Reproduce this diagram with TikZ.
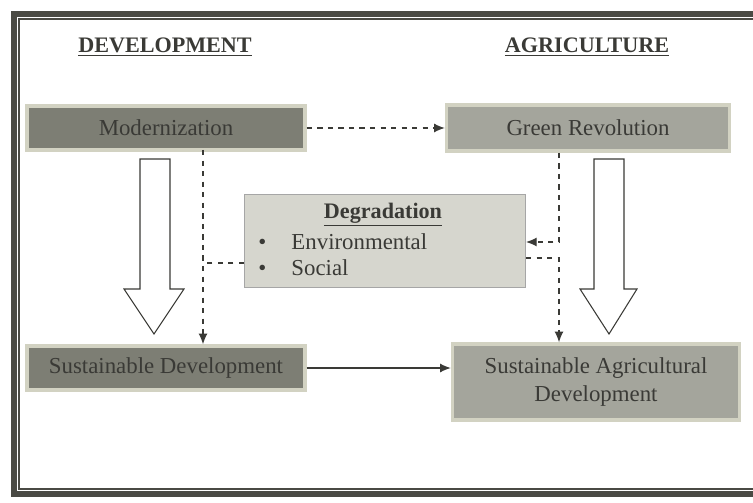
\documentclass[tikz,border=0pt]{standalone}
\usepackage{fontspec}
\setmainfont{Liberation Serif}
\usetikzlibrary{arrows.meta}
\definecolor{darkfill}{HTML}{7D7E74}
\definecolor{midfill}{HTML}{A4A59C}
\definecolor{degfill}{HTML}{D6D6CE}
\definecolor{boxedge}{HTML}{D2D2C2}
\definecolor{inktext}{HTML}{3A3A36}
\definecolor{frameink}{HTML}{4A4A44}
\tikzset{
  darkbox/.style={fill=darkfill, draw=boxedge, line width=2pt, inner sep=0pt, text=inktext},
  midbox/.style={fill=midfill, draw=boxedge, line width=2pt, inner sep=0pt, text=inktext, align=center},
  degbox/.style={fill=degfill, draw=gray!70, line width=0.6pt, inner sep=0pt},
  heading/.style={text=inktext, font=\fontsize{12.6}{15}\selectfont\bfseries},
  dashconn/.style={draw=inktext, dashed, line width=0.6pt, -{Latex[length=6pt,width=5pt]}},
  dashline/.style={draw=inktext, dashed, line width=0.6pt},
  solidconn/.style={draw=inktext, line width=0.6pt, -{Latex[length=6pt,width=5pt]}},
  hollow/.style={draw=inktext, line width=0.6pt, fill=white}
}
\begin{document}
\begin{tikzpicture}[x=0.02cm, y=-0.02cm, font=\fontsize{13}{16}\selectfont]
    \useasboundingbox (0,0) rectangle (753,503);
    % frame
    \draw[frameink, line width=3pt] (14,14) rectangle (775,494);
    \draw[frameink, line width=0.6pt] (19,19) rectangle (775,489);

    % headings
    \node[heading] (devhead) at (165,47) {\underline{DEVELOPMENT}};
    \node[heading] (agrhead) at (587,47) {\underline{AGRICULTURE}};

    % boxes
    \node[darkbox, minimum width=5.56cm, minimum height=0.88cm] (modern) at (166,128) {Modernization};
    \node[midbox, minimum width=5.66cm, minimum height=0.92cm] (green) at (588,128) {Green Revolution};
    \node[darkbox, minimum width=5.56cm, minimum height=0.88cm] (sustdev) at (166,368) {Sustainable Development};
    \node[midbox, minimum width=5.74cm, minimum height=1.52cm] (sustagri) at (596,382) {Sustainable Agricultural\\Development};

    % degradation
    \node[degbox, minimum width=5.62cm, minimum height=1.86cm] (degr) at (385,241) {};
    \node[text=inktext, font=\fontsize{12.6}{15}\selectfont\bfseries] (degtitle) at (383,215) {\underline{Degradation}};
    \node[text=inktext, anchor=west, inner sep=0pt] (env) at (258,242) {\textbullet\hspace{1.1em}Environmental};
    \node[text=inktext, anchor=west, inner sep=0pt] (soc) at (258,268) {\textbullet\hspace{1.1em}Social};

    % hollow arrows
    \draw[hollow] (140,159) -- (140,289) -- (124,289) -- (154,334) -- (184,289) -- (170,289) -- (170,159) -- cycle;
    \draw[hollow] (594,159) -- (594,289) -- (580,289) -- (609,334) -- (637,289) -- (624,289) -- (624,159) -- cycle;

    % connectors
    \draw[dashconn] (modern) -- (green);
    \draw[solidconn] (sustdev.east) -- (sustdev.east -| sustagri.west);

    \coordinate (ml) at (203,150);
    \coordinate (jl) at (203,263);
    \draw[dashconn] (ml) -- (ml |- sustdev.north);
    \draw[dashline] (degr.west |- jl) -- (jl);

    \coordinate (jr) at (559,242);
    \coordinate (jr2) at (559,258);
    \draw[dashconn] (green.south -| jr) -- (jr) -- (degr.east |- jr);
    \draw[dashconn] (degr.east |- jr2) -- (jr2) -- (jr2 |- sustagri.north);
\end{tikzpicture}
\end{document}
